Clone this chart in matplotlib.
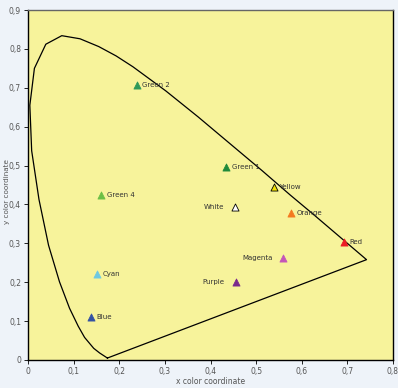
import matplotlib.pyplot as plt
from matplotlib.ticker import FuncFormatter

plt.rcParams['font.family'] = ['DejaVu Sans']

# spectral locus (closed by the purple line)
locus_x = [0.174, 0.157, 0.144, 0.124, 0.110, 0.091, 0.069, 0.045, 0.024, 0.008, 0.004,
           0.014, 0.039, 0.074, 0.114, 0.155, 0.193, 0.230, 0.302, 0.373, 0.444,
           0.513, 0.575, 0.627, 0.692, 0.742]
locus_y = [0.005, 0.018, 0.030, 0.058, 0.087, 0.133, 0.201, 0.295, 0.413, 0.538, 0.655,
           0.750, 0.812, 0.834, 0.826, 0.806, 0.782, 0.754, 0.692, 0.625, 0.555,
           0.487, 0.424, 0.373, 0.308, 0.258]

names = ['Green 2', 'Green 4', 'Green 1', 'Yellow', 'White', 'Orange', 'Red',
         'Magenta', 'Purple', 'Cyan', 'Blue']
px = [0.238, 0.160, 0.434, 0.539, 0.454, 0.576, 0.693, 0.560, 0.455, 0.151, 0.137]
py = [0.707, 0.424, 0.495, 0.446, 0.393, 0.379, 0.304, 0.262, 0.200, 0.221, 0.111]
colors = ['#2e9a5a', '#6cbf45', '#1f8a3a', '#f2e200', '#ffffff', '#f47a20', '#ec1c24',
          '#c455b8', '#7b2a8c', '#6ec9e3', '#3452a3']
label_side = ['r', 'r', 'r', 'r', 'l', 'r', 'r', 'l', 'l', 'r', 'r']

fig = plt.figure(figsize=(3.98, 3.88), dpi=100, facecolor='#eef3f9')
ax = fig.add_axes([0.0704, 0.0722, 0.917, 0.902])
ax.set_facecolor('#f7f39b')

ax.plot(locus_x + [locus_x[0]], locus_y + [locus_y[0]], color='black', lw=0.9)

for n, x, y, c, s in zip(names, px, py, colors, label_side):
    ec = 'black' if n in ('White', 'Yellow') else c
    ax.scatter(x, y, marker='^', s=26, color=c, edgecolors=ec, linewidths=0.6, zorder=3)
    if s == 'r':
        ax.annotate(n, (x, y), xytext=(4, 0), textcoords='offset points',
                    fontsize=5, color='#333333', va='center', ha='left')
    else:
        ax.annotate(n, (x, y), xytext=(-8, 0), textcoords='offset points',
                    fontsize=5, color='#333333', va='center', ha='right')

ax.set_xlim(0, 0.8)
ax.set_ylim(0, 0.9)
ax.set_xticks([i / 10 for i in range(9)])
ax.set_yticks([i / 10 for i in range(10)])
fmt = FuncFormatter(lambda v, p: '0' if abs(v) < 1e-9 else f'{v:.1f}'.replace('.', ','))
ax.xaxis.set_major_formatter(fmt)
ax.yaxis.set_major_formatter(fmt)
ax.tick_params(labelsize=5.5, labelcolor='#555555', color='black', length=3, width=0.6, pad=2)
ax.set_xlabel('x color coordinate', fontsize=5.5, color='#555555', labelpad=1)
ax.set_ylabel('y color coordinate', fontsize=5.2, color='#555555')
ax.yaxis.set_label_coords(-0.05, 0.48)
for sp in ax.spines.values():
    sp.set_linewidth(1.0)
ax.spines['top'].set_color('#666666')

fig.savefig('out.png', dpi=100, facecolor=fig.get_facecolor())
